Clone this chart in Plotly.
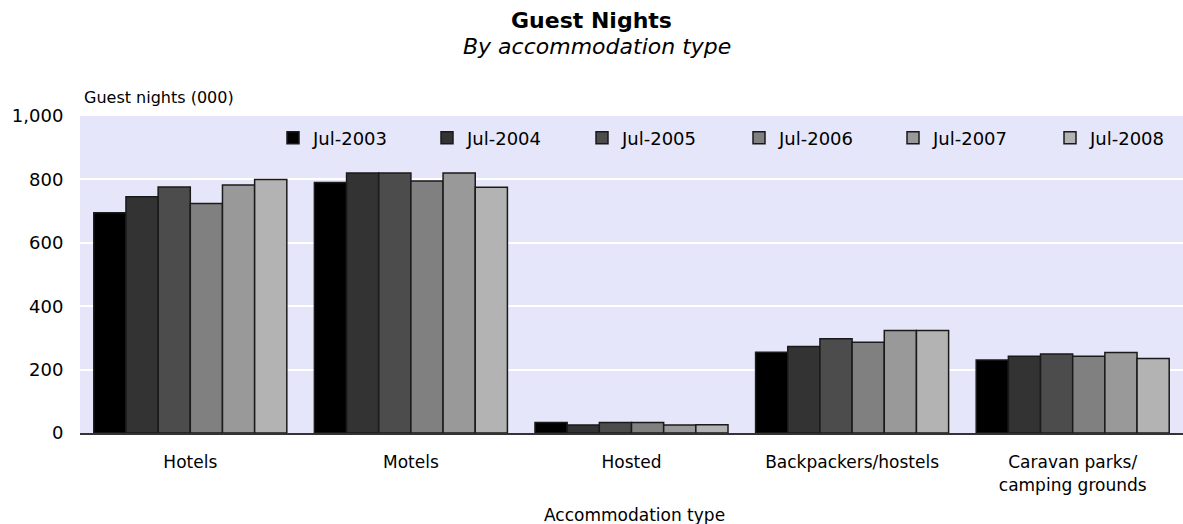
import plotly.graph_objects as go

categories = ["Hotels", "Motels", "Hosted", "Backpackers/hostels", "Caravan parks/<br>camping grounds"]
series_names = ["Jul-2003", "Jul-2004", "Jul-2005", "Jul-2006", "Jul-2007", "Jul-2008"]
jul_2003 = [695, 790, 33, 255, 230]
jul_2004 = [745, 820, 25, 273, 242]
jul_2005 = [776, 820, 33, 297, 249]
jul_2006 = [724, 795, 33, 286, 242]
jul_2007 = [782, 820, 25, 323, 254]
jul_2008 = [800, 775, 26, 323, 235]
series_values = [jul_2003, jul_2004, jul_2005, jul_2006, jul_2007, jul_2008]
colors = ["#000000", "#333333", "#4c4c4c", "#808080", "#999999", "#b3b3b3"]
y_ticks = [0, 200, 400, 600, 800, 1000]
legend_marker_x = [293, 447, 602, 759, 913, 1070]

FONT = "DejaVu Sans"
FS = 17

W, H = 1183, 524
L, R, T, B = 80, 0, 116, 91
ph = H - T - B


def py(ypix):
    return (H - B - ypix) / ph


def px(xpix):
    return (xpix - L) / (W - L - R)


fig = go.Figure()
legend_layouts = {}
for i, (name, vals, col, mx) in enumerate(zip(series_names, series_values, colors, legend_marker_x)):
    lname = "legend" if i == 0 else f"legend{i + 1}"
    fig.add_trace(go.Bar(
        x=categories, y=vals, name=name, legend=lname, showlegend=True,
        marker=dict(color=col, line=dict(color="#1a1a1a", width=1.5)),
    ))
    legend_layouts[lname] = dict(
        orientation="h", x=px(mx - 20), xanchor="left", y=py(138), yanchor="middle",
        bgcolor="rgba(0,0,0,0)", borderwidth=0, font=dict(family=FONT, size=18),
    )

fig.update_layout(
    width=W, height=H, autosize=False, showlegend=True,
    margin=dict(l=L, r=R, t=T, b=B, pad=0),
    paper_bgcolor="white", plot_bgcolor="#e6e6fa",
    font=dict(family=FONT, size=FS, color="#000000"),
    barmode="group", bargap=0.125, bargroupgap=0,
    title=dict(text="<b>Guest Nights</b>", x=0.5, xanchor="center", xref="container",
               y=1 - 20 / H, yanchor="middle", yref="container",
               font=dict(family=FONT, size=22, color="#000000")),
    xaxis=dict(showline=True, linecolor="#333333", linewidth=2, ticks="outside",
               ticklen=13, tickcolor="rgba(0,0,0,0)", showgrid=False,
               tickfont=dict(family=FONT, size=FS)),
    yaxis=dict(range=[0, 1000], tickvals=y_ticks, tickformat=",", showgrid=True,
               gridcolor="white", gridwidth=2, zeroline=False, showline=False,
               ticks="outside", ticklen=12, tickcolor="rgba(0,0,0,0)",
               tickfont=dict(family=FONT, size=18)),
    annotations=[
        dict(text="<i>By accommodation type</i>", xref="paper", yref="paper",
             x=px(597), y=py(46), xanchor="center", yanchor="middle", showarrow=False,
             font=dict(family=FONT, size=22)),
        dict(text="Guest nights (000)", xref="paper", yref="paper",
             x=px(82), y=py(98), xanchor="left", yanchor="middle", showarrow=False,
             font=dict(family=FONT, size=16)),
        dict(text="Accommodation type", xref="paper", yref="paper",
             x=px(634), y=py(515), xanchor="center", yanchor="middle", showarrow=False,
             font=dict(family=FONT, size=FS)),
    ],
    **legend_layouts,
)

fig.write_html("out.html", config={"displayModeBar": False},
               post_script="document.body.style.margin='0';")
